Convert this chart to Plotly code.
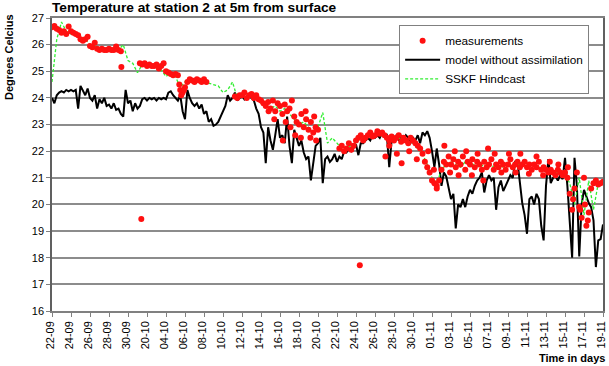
import numpy as np
import plotly.graph_objects as go

# ---------------- data ----------------
tick_days = list(range(0, 59, 2))
tick_labels = ["22-09", "24-09", "26-09", "28-09", "30-09", "20-10", "04-10", "06-10",
               "08-10", "10-10", "12-10", "14-10", "16-10", "18-10", "20-10", "22-10",
               "24-10", "26-10", "28-10", "30-10", "01-11", "03-11", "05-11", "07-11",
               "09-11", "11-11", "13-11", "15-11", "17-11", "19-11"]

# model without assimilation, every 6 hours from 22-09
model_vals = [
    24.0, 23.8, 24.1, 24.2,   24.25, 24.2, 24.3, 24.25,   24.3, 24.25, 24.3, 23.6,
    24.45, 24.3, 24.1, 24.35, 24.0, 23.9, 24.1, 23.6,     23.95, 23.8, 24.0, 23.7,
    23.75, 23.6, 23.8, 23.55, 23.6, 23.4, 23.3, 24.3,     23.8, 23.9, 23.5, 23.8,
    23.6, 23.7, 23.95, 24.0,  23.9, 24.0, 23.95, 24.0,    23.9, 24.0, 23.95, 24.0,
    23.95, 24.2, 24.25, 24.1, 24.0, 23.9, 24.1, 23.5,     23.2, 24.3, 24.0, 23.8,
    23.7, 23.8, 23.6, 23.75,  23.4, 23.5, 23.1, 23.2,     22.95, 23.0, 23.1, 23.3,
    23.5, 23.7, 24.1, 23.9,   24.0, 24.2, 23.9, 24.0,     24.1, 23.95, 24.05, 24.1,
    24.0, 23.9, 23.6, 23.4,   22.9, 22.7, 21.55, 22.9,    22.4, 22.05, 22.6, 23.2,
    22.5, 22.6, 22.3, 23.3,   22.2, 21.55, 22.8, 22.5,    22.2, 22.4, 21.95, 21.7,
    21.8, 20.9, 21.5, 22.2,   22.3, 22.5, 20.8, 21.7,     21.8, 21.6, 21.7, 21.9,
    21.6, 21.8, 21.7, 22.0,   21.95, 22.1, 22.0, 22.15,   22.25, 21.85, 22.3, 22.3,
    22.4, 22.5, 22.4, 22.6,   22.5, 22.6, 22.5, 22.7,     22.55, 22.6, 21.4, 22.4,
    22.5, 22.6, 22.4, 22.55,  22.4, 22.6, 22.5, 22.3,     22.5, 22.4, 22.6, 22.3,
    22.7, 22.6, 22.75, 22.5,  22.0, 21.4, 22.1, 21.5,     20.7, 21.2, 21.05, 20.6,
    20.2, 20.4, 19.1, 20.0,   19.9, 20.2, 19.9, 20.3,     20.55, 20.4, 20.7, 20.9,
    21.0, 21.2, 20.45, 20.9,  21.1, 20.9, 21.0, 19.8,     20.65, 20.9, 20.5, 20.7,
    20.9, 21.1, 21.0, 21.6,   21.6, 20.8, 20.05, 19.6,    18.9, 20.2, 20.3, 20.0,
    20.4, 20.2, 19.2, 18.65,  20.7, 21.7, 20.8, 21.0,     21.05, 20.9, 21.1, 20.95,
    21.75, 20.7, 19.4, 18.0,  21.75, 20.7, 18.05, 20.0,   20.55, 20.3, 20.05, 19.9,
    19.4, 17.65, 18.65, 18.7, 19.25,
]

# measurements, every 6 hours (None = no data)
meas_vals = [
    26.65, 26.7, 26.6, 26.55,  26.45, 26.5, 26.4, 26.68,  26.5, 26.45, 26.4, 26.35,
    26.2, 26.15, 26.2, 26.3,   25.95, 25.9, 26.07, 25.85, 25.8, 25.85, 25.8, 25.8,
    25.85, 25.8, 25.8, 25.93,  25.8, 25.75, None, None,   None, None, None, None,
    None, 25.3, 25.25, 25.3,   25.2, 25.25, 25.2, 25.2,   25.25, 25.1, 25.2, 25.3,
    25.0, 24.95, 24.9, 24.85,  24.9, 24.85, 24.3, 24.2,   24.4, 24.6, 24.7, 24.65,
    24.6, 24.7, 24.65, 24.6,   24.7, 24.6, None, None,    None, None, None, None,
    None, None, None, None,    None, 24.05, 24.0, 24.1,   24.1, 24.2, 24.0, 24.1,
    24.15, 24.0, 24.1, 23.95,  23.9, 23.8, 23.7, 23.85,   23.6, 23.9, 23.5, 23.8,
    23.7, 23.4, 23.75, 23.5,   23.6, 23.9, 23.3, 23.1,    23.0, 23.4, 22.9, 23.2,
    22.8, 23.1, 22.7, 22.9,    22.8, None, None, None,    None, None, None, None,
    None, 22.1, 22.2, 22.0,    22.1, 22.3, 22.05, 22.2,   22.4, 22.5, 22.6, 22.4,
    22.5, 22.6, 22.7, 22.55,   22.6, 22.75, 22.65, 22.7,  22.6, 22.5, 22.4, 22.55,
    22.4, 22.5, 22.6, 22.35,   22.5, 22.4, 22.3, 22.5,    22.4, 22.3, 22.2, 22.1,
    21.9, 21.6, 21.4, 21.2,    20.9, 20.8, 20.7, 20.9,    21.3, 21.6, 21.5, 21.8,
    21.5, 21.7, 21.4, 21.6,    21.5, 21.8, 21.3, 21.6,    21.5, 21.7, 21.4, 21.6,
    21.5, 21.3, 21.6, 21.4,    21.5, 21.7, 21.3, 21.5,    21.4, 21.6, 21.5, 21.3,
    21.5, 21.7, 21.4, 21.5,    21.6, 21.4, 21.5, 21.6,    21.4, 21.5, 21.3, 21.5,
    21.4, 21.6, 21.3, 21.4,    21.3, 21.2, 21.3, 21.2,    21.1, 21.3, 21.2, 21.1,
    21.2, 21.0, 20.4, 19.8,    20.6, 21.2, 19.9, 19.5,    21.0, 19.2, 19.7, 20.6,
    20.8, 20.9, 20.75, 20.8,   20.85,
]

# extra (scattered) measurements: day offset from 22-09, value
extra_days = [7.3, 9.4, 32.4, 13.4, 13.6, 13.9, 22.8, 23.4, 24.3, 24.6, 25.1, 25.6,
              26.2, 26.7, 27.2, 27.6, 27.8, 35.1, 35.5, 36.3, 36.8, 37.6, 38.4, 39.6,
              40.2, 40.5, 41.3, 41.9, 42.4, 42.8, 43.6, 44.2, 44.8, 45.4, 45.9, 46.6,
              47.3, 48.1, 48.8, 49.3, 50.2, 51.0, 51.7, 52.4, 53.3, 54.3, 54.85, 55.6,
              56.4, 56.1]
extra_vals = [25.16, 19.45, 17.72, 24.5, 24.1, 24.3, 23.5, 23.2, 22.4, 23.1, 22.9, 22.6,
              22.5, 23.5, 22.5, 23.3, 22.4, 21.8, 22.2, 21.9, 21.55, 22.0, 21.7, 22.0,
              21.3, 20.6, 22.2, 21.2, 22.0, 21.1, 22.0, 21.1, 21.9, 20.9, 22.1, 21.9,
              21.2, 21.9, 21.2, 21.9, 21.15, 21.8, 21.1, 21.6, 21.5, 21.4, 20.2, 19.8,
              19.4, 20.0]

# SSKF hindcast, every 12 hours
sskf_vals = [
    24.6, 26.2, 26.85, 26.5, 26.4, 26.45, 26.2, 26.2, 26.0, 25.95, 25.85, 25.8,
    25.85, 25.8, 25.8, 26.0, 25.4, 25.3, 24.95, 25.25, 25.2, 25.2, 25.2, 25.05,
    24.8, 24.95, 24.8, 24.4, 24.6, 24.65, 24.6, 24.65, 24.6, 24.55, 24.5, 24.45,
    24.2, 24.3, 24.6, 24.0, 24.1, 24.05, 24.1, 24.0, 23.8, 23.7, 23.6, 23.7,
    23.5, 23.6, 23.4, 23.2, 23.0, 23.1, 22.9, 22.7, 22.9, 23.45, 22.3, 22.5,
    22.3, 22.1, 22.15, 22.2, 22.3, 22.5, 22.55, 22.6, 22.65, 22.6, 22.55, 22.4,
    22.45, 22.5, 22.4, 22.35, 22.3, 22.1, 21.9, 21.5, 21.0, 20.8, 21.3, 21.5,
    21.6, 21.5, 21.4, 21.6, 21.5, 21.5, 21.4, 21.5, 21.6, 21.4, 21.5, 21.4,
    21.6, 21.5, 21.5, 21.5, 21.4, 21.3, 21.5, 21.3, 21.25, 21.25, 21.2, 21.15,
    21.1, 20.8, 20.0, 21.0, 19.6, 20.9, 19.8, 20.8, 20.85,
]

model_days = np.arange(len(model_vals)) * 0.25
meas_days = np.arange(len(meas_vals)) * 0.25
sskf_days = np.arange(len(sskf_vals)) * 0.5

FONT = "Liberation Sans, Arial, sans-serif"

fig = go.Figure()
fig.add_trace(go.Scatter(x=model_days, y=model_vals, mode="lines",
                         name="model without assimilation", legendrank=2,
                         line=dict(color="black", width=2)))
fig.add_trace(go.Scatter(x=sskf_days, y=sskf_vals, mode="lines",
                         name="SSKF Hindcast", legendrank=3,
                         line=dict(color="#33ee33", width=1.3, dash="3px,2px")))
fig.add_trace(go.Scatter(x=meas_days, y=meas_vals, mode="markers",
                         name="measurements", legendrank=1, legendgroup="m",
                         marker=dict(color="#ff1010", size=6)))
fig.add_trace(go.Scatter(x=extra_days, y=extra_vals, mode="markers",
                         showlegend=False, legendgroup="m",
                         marker=dict(color="#ff1010", size=6)))

fig.update_layout(
    width=609, height=366,
    margin=dict(l=52, r=6, t=18, b=55, autoexpand=False),
    paper_bgcolor="white", plot_bgcolor="white",
    font=dict(family=FONT, size=11, color="black"),
    showlegend=True,
    legend=dict(x=0.63, y=0.975, xanchor="left", yanchor="top",
                bgcolor="white", bordercolor="#808080", borderwidth=1,
                font=dict(size=11.8, family=FONT), itemwidth=35,
                tracegroupgap=0),
    xaxis=dict(range=[0, 58], tickmode="array", tickvals=tick_days,
               ticktext=tick_labels, tickangle=-90, showgrid=False,
               zeroline=False, showline=True, linecolor="#808080", linewidth=1.5,
               mirror=True, ticks="outside", ticklen=4, tickcolor="#808080",
               tickfont=dict(size=11), automargin=False, ticklabelshift=-2),
    yaxis=dict(range=[16, 27], dtick=1, showgrid=True, gridcolor="#8c8c8c",
               gridwidth=1.5, zeroline=False, showline=True, linecolor="#606060",
               linewidth=1.5, mirror=True, ticks="outside", ticklen=4,
               tickcolor="#808080", tickfont=dict(size=11), automargin=False),
    annotations=[
        dict(text="<b>Temperature at station 2 at 5m from surface</b>",
             xref="paper", yref="paper", x=-0.004, y=1.036, xanchor="left",
             yanchor="middle", showarrow=False, font=dict(size=13.7, family=FONT)),
        dict(text="<b>Degrees Celcius</b>", xref="paper", yref="paper",
             x=-0.078, y=0.867, xanchor="center", yanchor="middle", textangle=-90,
             showarrow=False, font=dict(size=11, family=FONT)),
        dict(text="<b>Time in days</b>", xref="paper", yref="paper",
             x=1.008, y=-0.16, xanchor="right", yanchor="middle",
             showarrow=False, font=dict(size=11, family=FONT)),
    ],
)

fig.write_html("out.html", config={"displayModeBar": False},
               post_script="document.body.style.margin='0';document.body.style.overflow='hidden';")
